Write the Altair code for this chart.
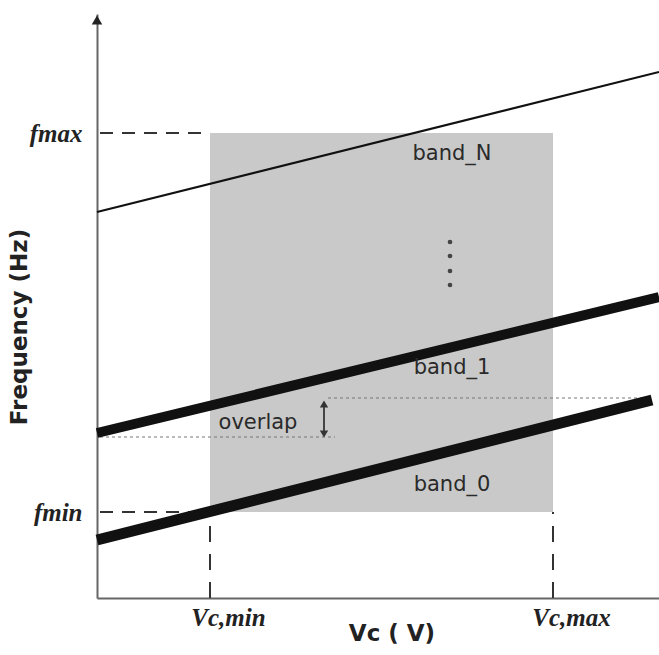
import altair as alt
import pandas as pd

# ---- data (schematic units; origin at axes corner) ----
vc_min, vc_max = 113, 456
f_min, f_max = 86, 465

band_names = ["band_0", "band_1", "band_N"]
band_x0 = [0, 0, 0]
band_y0 = [58, 165, 386]
band_x1 = [555, 562, 562]
band_y1 = [198, 301, 526]
band_w = [11, 10, 2]

label_text = ["band_N", "band_1", "band_0", "overlap"]
label_x = [355, 355, 355, 161]
label_y = [444, 230, 113, 175]

dots_x = [353, 353, 353, 353]
dots_y = [356, 342, 327, 313]

overlap_x = 227
overlap_lo, overlap_hi = 160, 198
overlap_lines_x0 = [231, 3]
overlap_lines_x1 = [545, 238]
overlap_lines_y = [200, 161]

W, H = 562, 584
xs = alt.Scale(domain=[0, W], nice=False, zero=False)
ys = alt.Scale(domain=[0, H], nice=False, zero=False)

LBL_FONT = "Liberation Serif"

def X(f, **kw):
    return alt.X(f, scale=xs, **kw)

def Y(f, **kw):
    return alt.Y(f, scale=ys, **kw)

rect_df = pd.DataFrame({"x": [vc_min], "x2": [vc_max], "y": [f_min], "y2": [f_max]})
region = alt.Chart(rect_df).mark_rect(color="#c9c9c9").encode(
    x=X("x:Q", axis=alt.Axis(values=[vc_min, vc_max], labelExpr="datum.value == 113 ? 'Vc,min' : 'Vc,max'",
                             title=None, grid=False, ticks=False, domainColor="#666", domainWidth=2,
                             labelFont=LBL_FONT, labelFontSize=25, labelFontStyle="italic",
                             labelFontWeight="bold", labelColor="#222", labelPadding=7,
                             labelOffset=18, labelFlush=False, labelOverlap=False)),
    x2="x2:Q",
    y=Y("y:Q", axis=alt.Axis(values=[f_min, f_max], labelExpr="datum.value == 86 ? 'fmin' : 'fmax'",
                             title=None, grid=False, ticks=False, domainColor="#666", domainWidth=2,
                             labelFont=LBL_FONT, labelFontSize=25, labelFontStyle="italic",
                             labelFontWeight="bold", labelColor="#222", labelPadding=15,
                             labelOverlap=False, labelFlush=False)),
    y2="y2:Q",
)

hdash_df = pd.DataFrame({"x": [3, 3], "x2": [vc_min, vc_min], "y": [f_max, f_min]})
hdash = alt.Chart(hdash_df).mark_rule(color="#333", strokeWidth=2, strokeDash=[13, 9]).encode(
    x=X("x:Q"), x2="x2:Q", y=Y("y:Q"))

vdash_df = pd.DataFrame({"x": [vc_min, vc_max], "y": [0, 0], "y2": [f_min, f_min]})
vdash = alt.Chart(vdash_df).mark_rule(color="#333", strokeWidth=2, strokeDash=[16, 12]).encode(
    x=X("x:Q"), y=Y("y:Q"), y2="y2:Q")

dot_df = pd.DataFrame({"x": overlap_lines_x0, "x2": overlap_lines_x1, "y": overlap_lines_y})
dotted = alt.Chart(dot_df).mark_rule(color="#777", strokeWidth=1.2, strokeDash=[3, 3]).encode(
    x=X("x:Q"), x2="x2:Q", y=Y("y:Q"))

band_df = pd.DataFrame({"name": band_names, "x": band_x0, "y": band_y0,
                        "x2": band_x1, "y2": band_y1, "w": band_w})
bands = alt.Chart(band_df).mark_rule(color="#111", strokeCap="butt").encode(
    x=X("x:Q"), y=Y("y:Q"), x2="x2:Q", y2="y2:Q",
    strokeWidth=alt.StrokeWidth("w:Q", scale=None))

arr_df = pd.DataFrame({"x": [overlap_x], "y": [overlap_lo + 3], "y2": [overlap_hi - 3]})
arr_line = alt.Chart(arr_df).mark_rule(color="#444", strokeWidth=2).encode(
    x=X("x:Q"), y=Y("y:Q"), y2="y2:Q")
head_df = pd.DataFrame({"x": [overlap_x, overlap_x], "y": [overlap_hi - 4, overlap_lo + 4],
                        "s": ["triangle-up", "triangle-down"]})
heads = alt.Chart(head_df).mark_point(filled=True, color="#333", size=70, opacity=1).encode(
    x=X("x:Q"), y=Y("y:Q"), shape=alt.Shape("s:N", scale=None))

lab_df = pd.DataFrame({"t": label_text, "x": label_x, "y": label_y})
labels = alt.Chart(lab_df).mark_text(font="DejaVu Sans", fontSize=21, color="#2a2a2a",
                                     align="center", baseline="middle").encode(
    x=X("x:Q"), y=Y("y:Q"), text="t:N")

dd_df = pd.DataFrame({"x": dots_x, "y": dots_y})
dots = alt.Chart(dd_df).mark_point(filled=True, color="#444", size=22, opacity=1).encode(
    x=X("x:Q"), y=Y("y:Q"))

tip_df = pd.DataFrame({"x": [0], "y": [H - 6]})
tip = alt.Chart(tip_df).mark_point(filled=True, shape="triangle-up", color="#222", size=110, opacity=1).encode(
    x=X("x:Q"), y=Y("y:Q"))

xt_df = pd.DataFrame({"t": ["Vc ( V)"], "x": [295], "y": [-36]})
xtitle = alt.Chart(xt_df).mark_text(font="DejaVu Sans", fontWeight="bold", fontSize=23, color="#222",
                                    align="center", baseline="middle").encode(
    x=X("x:Q"), y=Y("y:Q"), text="t:N")

yt_df = pd.DataFrame({"t": ["Frequency (Hz)"], "x": [-77], "y": [271]})
ytitle = alt.Chart(yt_df).mark_text(font="DejaVu Sans", fontWeight="bold", fontSize=23, color="#222",
                                    align="center", baseline="middle", angle=270).encode(
    x=X("x:Q"), y=Y("y:Q"), text="t:N")

chart = alt.layer(region, hdash, vdash, dotted, bands, arr_line, heads, labels, dots, tip,
                  xtitle, ytitle).properties(
    width=W, height=H,
    autosize=alt.AutoSizeParams(type="none"),
    padding={"left": 97, "top": 14, "right": 0, "bottom": 57},
).configure_view(stroke=None)

chart.save("out.html", embed_options={"renderer": "svg", "actions": False})
